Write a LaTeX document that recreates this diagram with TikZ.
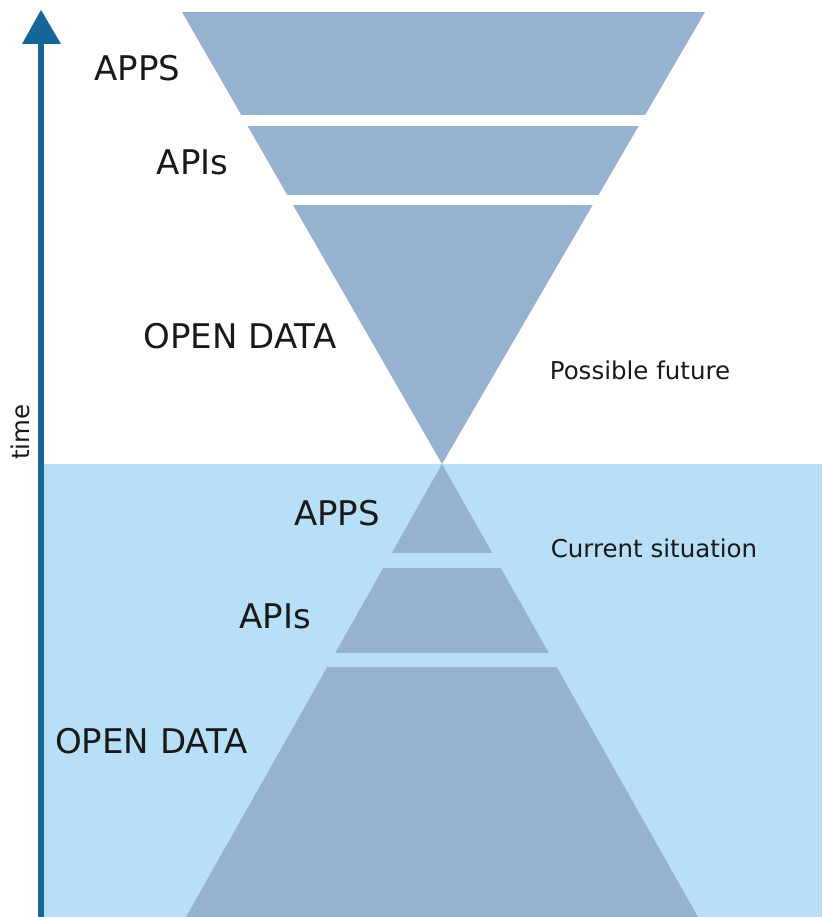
\documentclass[tikz,border=0pt]{standalone}
\usepackage{fontspec}
\setmainfont{DejaVu Sans}
\definecolor{pyr}{RGB}{151,178,208}
\definecolor{sky}{RGB}{183,223,247}
\definecolor{arr}{RGB}{22,102,153}
\tikzset{
  big/.style={font=\fontsize{34}{38}\selectfont, text=black!90, inner sep=0pt, anchor=base},
  small/.style={font=\fontsize{24.5}{28}\selectfont, text=black!90, inner sep=0pt, anchor=base},
}
\begin{document}
\begin{tikzpicture}[x=1pt,y=-1pt]
\useasboundingbox (0,0) rectangle (822,917);
% background for current situation
\fill[sky] (44,464) rectangle (822,917);
% top inverted pyramid
\coordinate (tl) at (182,12);
\coordinate (tr) at (705,12);
\coordinate (v) at (442,464);
\begin{scope}
  \clip (tl) -- (tr) -- (v) -- cycle;
  \fill[pyr] (0,12) rectangle (822,115);
  \fill[pyr] (0,126) rectangle (822,195);
  \fill[pyr] (0,205) rectangle (822,464.5);
\end{scope}
% bottom pyramid
\coordinate (bl) at (186,917);
\coordinate (br) at (698,917);
\begin{scope}
  \clip (v) -- (br) -- (bl) -- cycle;
  \fill[pyr] (0,463.5) rectangle (822,553);
  \fill[pyr] (0,568) rectangle (822,653);
  \fill[pyr] (0,667) rectangle (822,917);
\end{scope}
% time arrow
\coordinate (abot) at (41,917);
\coordinate (abase) at (41,43);
\coordinate (atip) at (41,10);
\draw[arr, line width=6pt] (abot) -- (abase);
\fill[arr] (atip) -- (22,44) -- (61,44) -- cycle;
\node[small, rotate=90, anchor=base] (time) at (29,432) {time};
% labels
\node[big] (apps1) at (137.5,81) {APPS};
\node[big] (apis1) at (192.5,175) {APIs};
\node[big] (od1) at (240,348) {OPEN DATA};
\node[small] (pf) at (640,379) {Possible future};
\node[small] (cs) at (654,557) {Current situation};
\node[big] (apps2) at (337,525) {APPS};
\node[big] (apis2) at (275,628) {APIs};
\node[big] (od2) at (151.5,753) {OPEN DATA};
\end{tikzpicture}
\end{document}
